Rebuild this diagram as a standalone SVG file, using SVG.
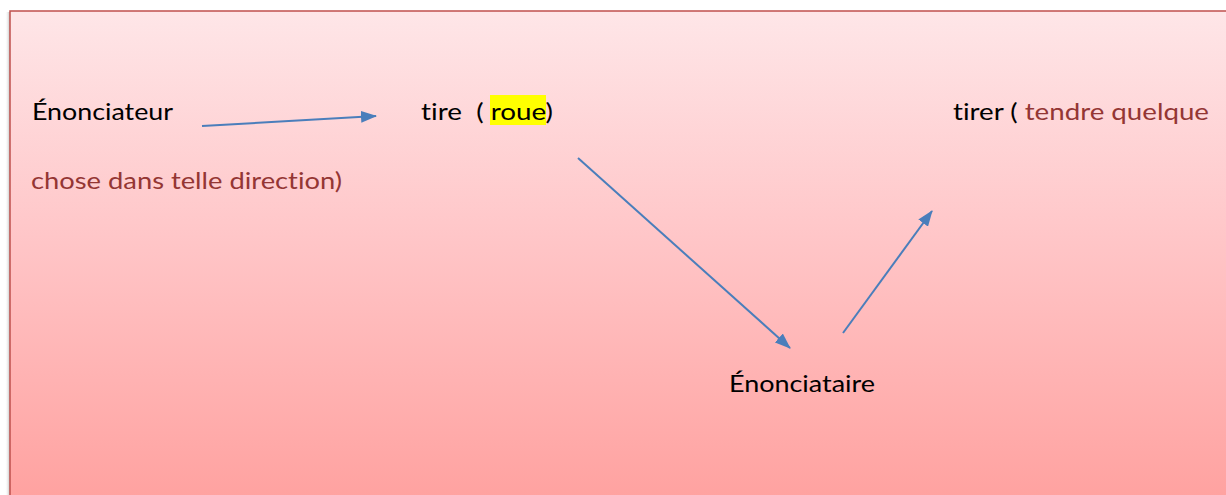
<svg xmlns="http://www.w3.org/2000/svg" width="1226" height="495" viewBox="0 0 1226 495">
<style>
text{font-family:Lato,"Open Sans","Liberation Sans",sans-serif;font-size:23px;fill:#000;font-variant-ligatures:none}
.red{fill:#943634}
.conn{stroke:#4a7ebb;stroke-width:2;fill:none}
</style>
<defs>
<linearGradient id="bg" x1="0" y1="0" x2="0" y2="1">
<stop offset="0" stop-color="#fee6e8"/>
<stop offset="0.45" stop-color="#ffc6c8"/>
<stop offset="1" stop-color="#ffa09e"/>
</linearGradient>
<linearGradient id="sh" x1="0" y1="0" x2="1" y2="0">
<stop offset="0" stop-color="#ffffff" stop-opacity="0"/>
<stop offset="1" stop-color="#bbbbbb"/>
</linearGradient>
<marker id="ah2" markerWidth="16" markerHeight="12" refX="15" refY="6" orient="auto" markerUnits="userSpaceOnUse" viewBox="0 0 16 12">
<path d="M0,0 L16,6 L0,12 z" fill="#4a7ebb"/>
</marker>
</defs>
<rect x="0" y="0" width="1226" height="495" fill="#ffffff"/>
<rect x="5" y="12" width="5" height="490" fill="url(#sh)"/>
<rect id="box" x="10" y="11" width="1230" height="500" fill="url(#bg)" stroke="#c0504d" stroke-width="1.5"/>
<g id="n1"><text x="32" y="120" textLength="141" lengthAdjust="spacingAndGlyphs">Énonciateur</text></g>
<g id="n2">
<rect x="490" y="95" width="56" height="30" fill="#ffff00"/>
<text x="421" y="120" textLength="132" lengthAdjust="spacingAndGlyphs" xml:space="preserve">tire  ( roue)</text>
</g>
<g id="n3">
<text x="953" y="120" textLength="256" lengthAdjust="spacingAndGlyphs">tirer ( <tspan class="red">tendre quelque</tspan></text>
<text class="red" x="31" y="189" textLength="311" lengthAdjust="spacingAndGlyphs">chose dans telle direction)</text>
</g>
<g id="n4"><text x="729" y="392" textLength="146" lengthAdjust="spacingAndGlyphs">Énonciataire</text></g>
<g id="connectors">
<line class="conn" x1="202" y1="126" x2="376" y2="116" marker-end="url(#ah2)"/>
<line class="conn" x1="578" y1="158" x2="790" y2="348" marker-end="url(#ah2)"/>
<line class="conn" x1="843" y1="333" x2="932" y2="211" marker-end="url(#ah2)"/>
</g>
</svg>
